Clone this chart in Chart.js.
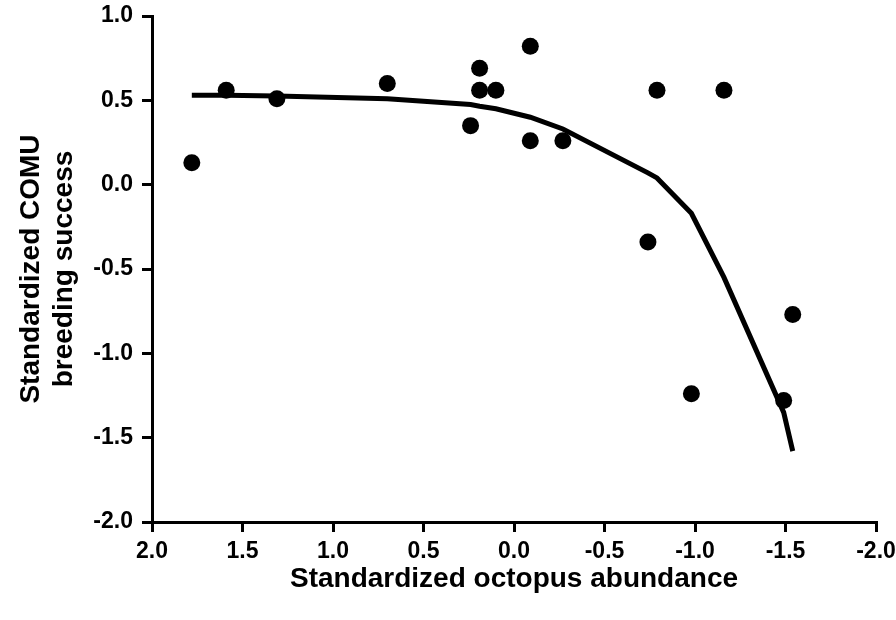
<!DOCTYPE html>
<html>
<head>
<meta charset="utf-8">
<script src="https://cdn.jsdelivr.net/npm/chart.js@4.4.1/dist/chart.umd.min.js"></script>
<style>
  html, body { margin: 0; padding: 0; background: #fff; }
  #wrap { width: 896px; height: 620px; }
</style>
</head>
<body>
<div id="wrap"><canvas id="chart" width="896" height="620"></canvas></div>
<script>
// observed years: octopus abundance vs COMU breeding success (standardized)
const octopus  = [1.78, 1.59, 1.31, 0.70, 0.24, 0.19, 0.19, 0.10, -0.09, -0.09, -0.27, -0.79, -1.16, -0.74, -0.98, -1.54, -1.49];
const breeding = [0.13, 0.56, 0.51, 0.60, 0.35, 0.69, 0.56, 0.56, 0.82, 0.26, 0.26, 0.56, 0.56, -0.34, -1.24, -0.77, -1.28];

const fitX = [1.78, 1.59, 1.31, 0.70, 0.24, 0.19, 0.10, -0.09, -0.27, -0.74, -0.79, -0.98, -1.16, -1.49, -1.54];
const fitY = [0.53, 0.53, 0.525, 0.51, 0.475, 0.465, 0.45, 0.40, 0.33, 0.07, 0.04, -0.17, -0.55, -1.35, -1.58];

const xTitle = 'Standardized octopus abundance';
const yTitle = ['Standardized COMU', 'breeding success'];

const font = 'Liberation Sans, Arial, sans-serif';

const axisStyle = {
  border: { display: true, color: '#000', width: 3 },
  grid: { drawOnChartArea: false, drawTicks: true, tickLength: 10, color: '#000', lineWidth: 3 }
};

new Chart(document.getElementById('chart'), {
  type: 'scatter',
  data: {
    datasets: [
      {
        data: octopus.map((x, i) => ({ x: x, y: breeding[i] })),
        backgroundColor: '#000',
        borderWidth: 0,
        pointRadius: 8.5
      },
      {
        data: fitX.map((x, i) => ({ x: x, y: fitY[i] })),
        showLine: true,
        borderColor: '#000',
        borderWidth: 5,
        pointRadius: 0,
        tension: 0
      }
    ]
  },
  options: {
    responsive: false,
    animation: false,
    layout: { padding: { top: 16, right: 20, bottom: 0, left: 0 } },
    plugins: { legend: { display: false }, tooltip: { enabled: false } },
    scales: {
      x: {
        ...axisStyle,
        min: -2, max: 2, reverse: true,
        ticks: { stepSize: 0.5, padding: 6, color: '#000', font: { family: font, size: 23, weight: 'bold' },
                 callback: v => v.toFixed(1), maxRotation: 0 },
        title: { display: true, text: xTitle, color: '#000', font: { family: font, size: 28, weight: 'bold' },
                 padding: { top: 0, bottom: 24 } },
        afterFit: s => { s.height = 98; s.paddingLeft = 0; s.paddingRight = 0; }
      },
      y: {
        ...axisStyle,
        min: -2, max: 1,
        ticks: { stepSize: 0.5, padding: 9, color: '#000', font: { family: font, size: 23, weight: 'bold' },
                 callback: v => v.toFixed(1) },
        title: { display: true, text: yTitle, color: '#000', font: { family: font, size: 28, weight: 'bold', lineHeight: 1.18 },
                 padding: { top: 15, bottom: 0 } },
        afterFit: s => { s.width = 152; s.paddingTop = 0; s.paddingBottom = 0; }
      }
    }
  }
});
</script>
</body>
</html>
